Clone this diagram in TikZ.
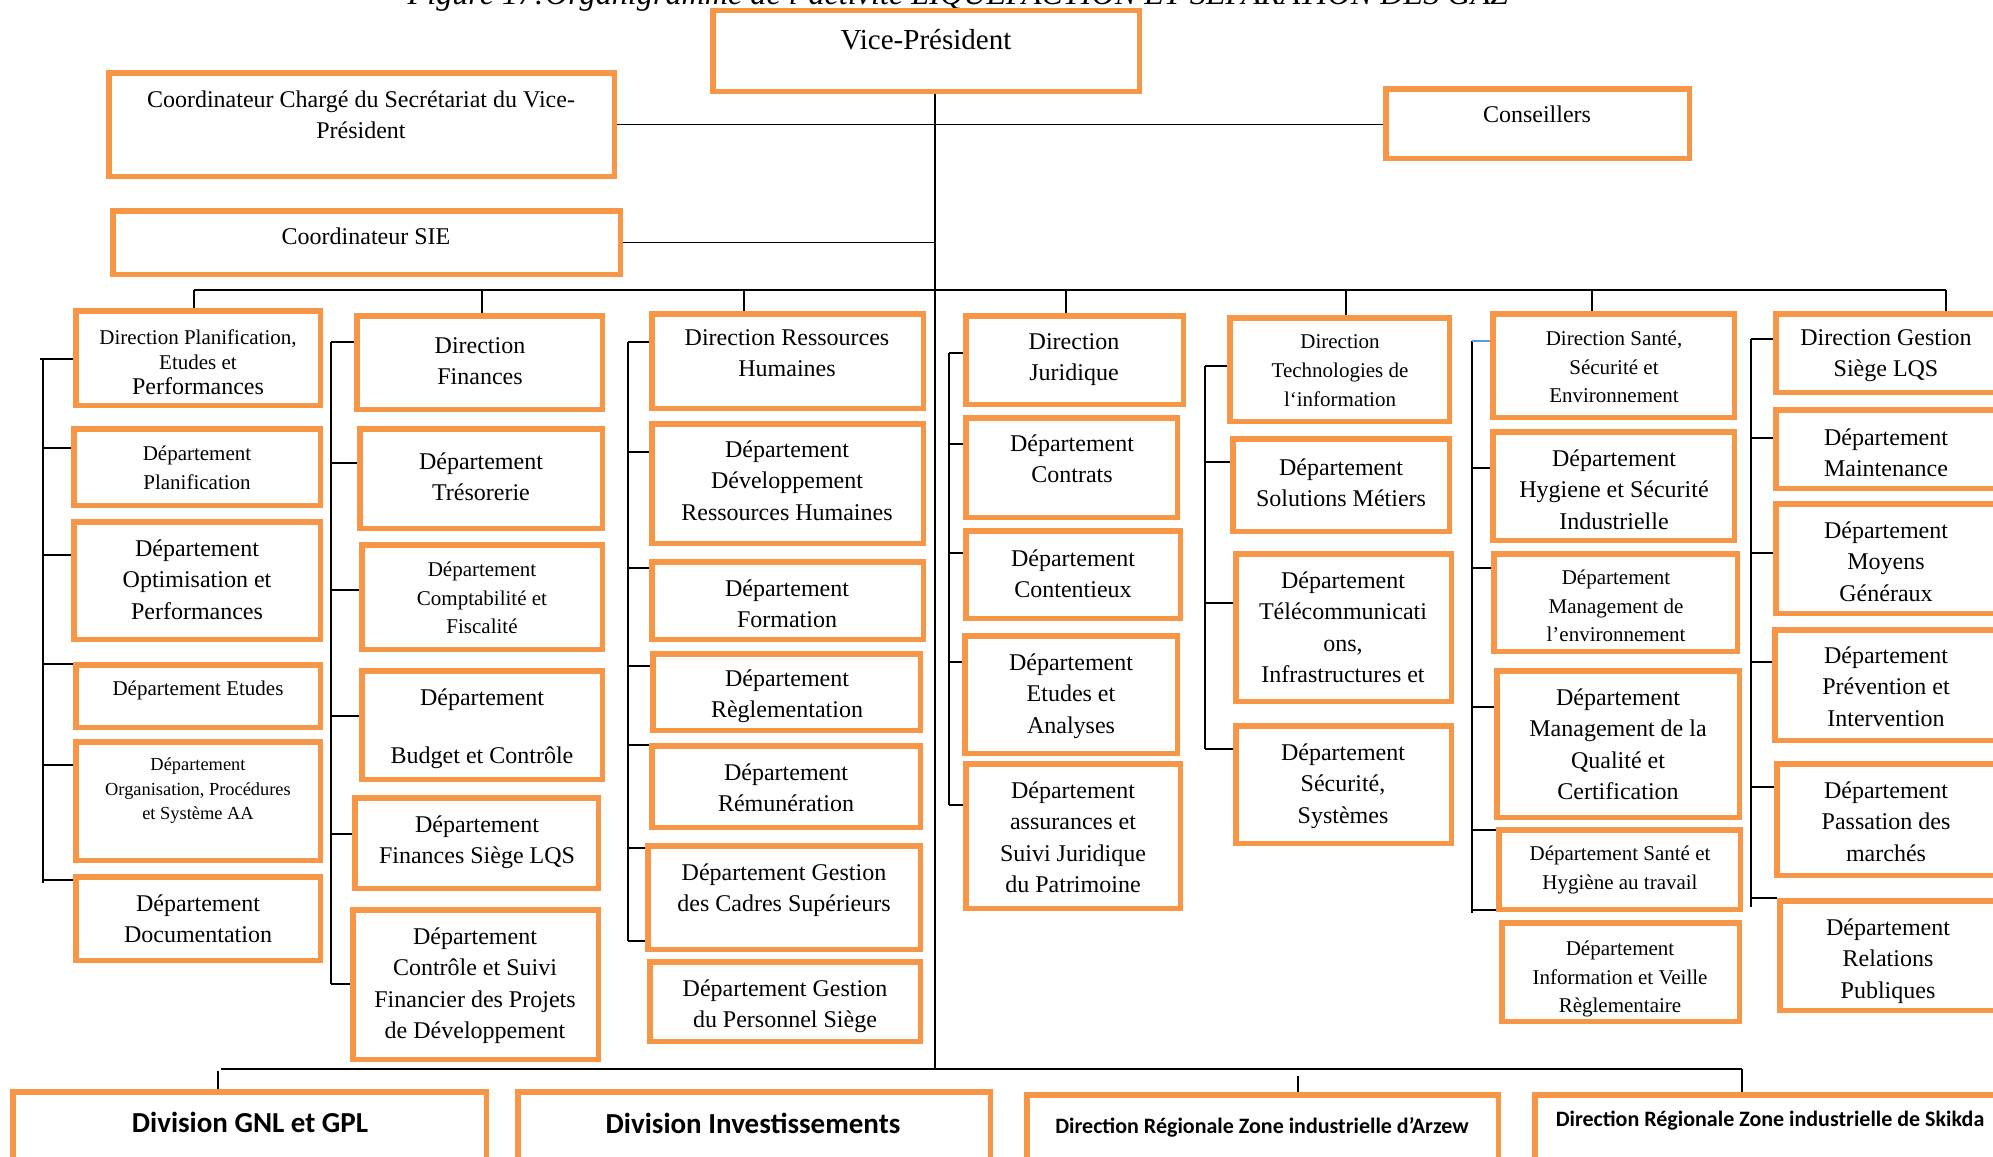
\documentclass[tikz,border=0pt]{standalone}
\usepackage{fontspec}
\setmainfont{Liberation Serif}
\newfontfamily\calib{Carlito}
\definecolor{boxor}{RGB}{247,150,70}
\definecolor{stubblue}{RGB}{91,155,213}
\newcommand\orgbox[5]{\node[obox, minimum width={(#4-#2-5.5)*1pt}, minimum height={(#5-#3-5.5)*1pt}] (#1) at ({(#2+#4)/2},{(#3+#5)/2}) {};}
\newcommand\stub[3]{\draw[conn] (#1 |- 0,#3) -- (#2.west |- 0,#3);}
\begin{document}
\begin{tikzpicture}[x=1pt,y=-1pt,
  obox/.style={draw=boxor, line width=5.5pt, fill=white, rectangle, inner sep=0pt},
  conn/.style={draw=black, line width=1.6pt},
  busl/.style={draw=black, line width=2.4pt},
  tx/.style={anchor=north, align=center, inner sep=0pt, execute at begin node=\strut, text=black},
  T29/.style={tx, font=\fontsize{29}{36}\selectfont, yshift=16pt},
  S24/.style={tx, font=\fontsize{24}{31.5}\selectfont, yshift=14.85pt},
  S21/.style={tx, font=\fontsize{21}{28.3}\selectfont, yshift=13.5pt},
  T24/.style={tx, font=\fontsize{24}{31.5}\selectfont, yshift=8.6pt},
  T21/.style={tx, font=\fontsize{21}{28.8}\selectfont, yshift=7.5pt},
  T18/.style={tx, font=\fontsize{18.4}{24.5}\selectfont, yshift=6.4pt},
  BIG/.style={anchor=base, inner sep=0pt, font=\calib\bfseries\fontsize{29}{30}\selectfont},
  MED/.style={anchor=base, inner sep=0pt, font=\calib\bfseries\fontsize{22}{24}\selectfont}]
\useasboundingbox (0,0) rectangle (1993,1156);
\fill[white] (0,0) rectangle (1993,1156);

% title (cut at top, as in the reference)
\node[anchor=base, inner sep=0pt, font=\itshape\fontsize{32.2}{33}\selectfont] (title) at (958,5) {Figure 17:Organigramme de l’activité LIQUEFACTION ET SEPARATION DES GAZ};

% top boxes
\orgbox{VP}{710}{8}{1142}{94}
\orgbox{CCS}{106}{70}{617}{179}
\orgbox{CONS}{1383}{86}{1692}{161}
\orgbox{SIE}{110}{208}{623}{277}

% column 1
\orgbox{DP}{73}{308}{323}{408}
\orgbox{DPL}{71}{426}{323}{508}
\orgbox{DOP}{71}{519}{323}{642}
\orgbox{DET}{73}{662}{323}{730}
\orgbox{DOR}{73}{739}{323}{863}
\orgbox{DDO}{73}{874}{323}{963}
% column 2
\orgbox{DF}{354}{313}{605}{412}
\orgbox{DTR}{357}{426}{605}{531}
\orgbox{DCF}{359}{542}{605}{652}
\orgbox{DBC}{359}{668}{605}{782}
\orgbox{DFS}{352}{795}{601}{891}
\orgbox{DCS}{350}{907}{601}{1062}
% column 3
\orgbox{DRH}{649}{311}{926}{411}
\orgbox{DDR}{649}{421}{926}{546}
\orgbox{DFO}{649}{559}{926}{642}
\orgbox{DRG}{650}{651}{923}{733}
\orgbox{DRM}{649}{743}{923}{830}
\orgbox{DGC}{645}{843}{923}{952}
\orgbox{DGP}{647}{959}{923}{1044}
% column 4
\orgbox{DJ}{963}{313}{1186}{407}
\orgbox{DCT}{963}{415}{1180}{520}
\orgbox{DCX}{963}{528}{1183}{621}
\orgbox{DEA}{962}{633}{1180}{756}
\orgbox{DAS}{963}{761}{1183}{911}
% column 5
\orgbox{DT}{1227}{315}{1452}{424}
\orgbox{DSM}{1230}{436}{1452}{534}
\orgbox{DTC}{1233}{551}{1454}{704}
\orgbox{DSS}{1233}{723}{1454}{846}
% column 6
\orgbox{DS}{1490}{311}{1737}{420}
\orgbox{DHS}{1490}{429}{1737}{543}
\orgbox{DME}{1491}{551}{1740}{654}
\orgbox{DMQ}{1494}{668}{1742}{820}
\orgbox{DSH}{1496}{827}{1743}{912}
\orgbox{DIV}{1499}{920}{1742}{1024}
% column 7
\orgbox{DG}{1773}{311}{2003}{395}
\orgbox{DMA}{1773}{407}{2003}{491}
\orgbox{DMG}{1773}{501}{2003}{616}
\orgbox{DPI}{1772}{627}{2003}{743}
\orgbox{DPM}{1774}{761}{2003}{878}
\orgbox{DRP}{1777}{898}{2003}{1013}
% bottom
\orgbox{GNL}{10}{1089}{489}{1175}
\orgbox{INV}{515}{1089}{993}{1175}
\orgbox{ARZ}{1024}{1092}{1501}{1175}
\orgbox{SKI}{1532}{1092}{2008}{1175}

% texts
\node[T29] (tVP) at (926,40) {Vice-Président};
\node[T24] (tCCS) at (361,99) {Coordinateur Chargé du Secrétariat du Vice-\\Président};
\node[S24] (tCONS) at (1537,115) {Conseillers};
\node[S24] (tSIE) at (366,237) {Coordinateur SIE};

\node[tx, font=\fontsize{21}{25}\selectfont, yshift=5pt] (tDP) at (198,335) {Direction Planification,\\Etudes et\\{\fontsize{24}{25}\selectfont Performances}};
\node[T21] (tDPL) at (197,453) {Département\\Planification};
\node[T24] (tDOP) at (197,548) {Département\\Optimisation et\\Performances};
\node[S21] (tDET) at (198,689) {Département Etudes};
\node[T18] (tDOR) at (198,764) {Département\\Organisation, Procédures\\et Système AA};
\node[T24] (tDDO) at (198,903) {Département\\Documentation};

\node[T24] (tDF) at (480,346) {Direction\\Finances};
\node[T24] (tDTR) at (481,461) {Département\\Trésorerie};
\node[T21] (tDCF) at (482,569) {Département\\Comptabilité et\\Fiscalité};
\node[T24] (tDBC) at (482,697) {Département\\[27pt]Budget et Contrôle};
\node[T24] (tDFS) at (477,824) {Département\\Finances Siège LQS};
\node[T24] (tDCS) at (475,936) {Département\\Contrôle et Suivi\\Financier des Projets\\de Développement};

\node[T24] (tDRH) at (787,338) {Direction Ressources\\Humaines};
\node[T24] (tDDR) at (787,449) {Département\\Développement\\Ressources Humaines};
\node[T24] (tDFO) at (787,588) {Département\\Formation};
\node[T24] (tDRG) at (787,678) {Département\\Règlementation};
\node[T24] (tDRM) at (786,772) {Département\\Rémunération};
\node[T24] (tDGC) at (784,872) {Département Gestion\\des Cadres Supérieurs};
\node[T24] (tDGP) at (785,988) {Département Gestion\\du Personnel Siège};

\node[T24] (tDJ) at (1074,342) {Direction\\Juridique};
\node[T24] (tDCT) at (1072,443) {Département\\Contrats};
\node[T24] (tDCX) at (1073,558) {Département\\Contentieux};
\node[T24] (tDEA) at (1071,662) {Département\\Etudes et\\Analyses};
\node[T24] (tDAS) at (1073,790) {Département\\assurances et\\Suivi Juridique\\du Patrimoine};

\node[T21] (tDT) at (1340,342) {Direction\\Technologies de\\l‘information};
\node[T24] (tDSM) at (1341,467) {Département\\Solutions Métiers};
\node[T24] (tDTC) at (1343,580) {Département\\Télécommunicati\\ons,\\Infrastructures et};
\node[T24] (tDSS) at (1343,752) {Département\\Sécurité,\\Systèmes};

\node[T21] (tDS) at (1614,338) {Direction Santé,\\Sécurité et\\Environnement};
\node[T24] (tDHS) at (1614,458) {Département\\Hygiene et Sécurité\\Industrielle};
\node[T21] (tDME) at (1616,577) {Département\\Management de\\l’environnement};
\node[T24] (tDMQ) at (1618,697) {Département\\Management de la\\Qualité et\\Certification};
\node[T21] (tDSH) at (1620,853) {Département Santé et\\Hygiène au travail};
\node[T21] (tDIV) at (1620,948) {Département\\Information et Veille\\Règlementaire};

\node[T24] (tDG) at (1886,338) {Direction Gestion\\Siège LQS};
\node[T24] (tDMA) at (1886,437) {Département\\Maintenance};
\node[T24] (tDMG) at (1886,530) {Département\\Moyens\\Généraux};
\node[T24] (tDPI) at (1886,655) {Département\\Prévention et\\Intervention};
\node[T24] (tDPM) at (1886,790) {Département\\Passation des\\marchés};
\node[T24] (tDRP) at (1888,927) {Département\\Relations\\Publiques};

\node[BIG] (tGNL) at (250,1132) {Division GNL et GPL};
\node[BIG] (tINV) at (753,1133) {Division Investissements};
\node[MED] (tARZ) at (1262,1133) {Direction Régionale Zone industrielle d’Arzew};
\node[MED] (tSKI) at (1770,1126) {Direction Régionale Zone industrielle de Skikda};

% connectors: top
\coordinate (trk) at (935,1069);
\draw[conn] (VP.south -| trk) -- (trk);
\draw[conn] (CCS.east) -- (CCS.east -| CONS.west);
\draw[conn] (SIE.east) -- (SIE.east -| trk);
\coordinate (bl) at (194,290);
\coordinate (br) at (1946,290);
\draw[busl] (bl) -- (br);
\coordinate (k2) at (482,290);
\coordinate (k3) at (744,290);
\coordinate (k4) at (1066,290);
\coordinate (k5) at (1346,290);
\coordinate (k6) at (1592,290);
\draw[conn] (bl) -- (bl |- DP.north);
\draw[conn] (k2) -- (k2 |- DF.north);
\draw[conn] (k3) -- (k3 |- DRH.north);
\draw[conn] (k4) -- (k4 |- DJ.north);
\draw[conn] (k5) -- (k5 |- DT.north);
\draw[conn] (k6) -- (k6 |- DS.north);
\draw[conn] (br) -- (br |- DG.north);

% spines
\coordinate (s1t) at (43,359);  \coordinate (s1b) at (43,883);
\coordinate (s2t) at (331,342); \coordinate (s2b) at (331,984);
\coordinate (s3t) at (628,342); \coordinate (s3b) at (628,941);
\coordinate (s4t) at (949,353); \coordinate (s4b) at (949,805);
\coordinate (s5t) at (1205,366); \coordinate (s5b) at (1205,749);
\coordinate (s6t) at (1472,341); \coordinate (s6b) at (1472,913);
\coordinate (s7t) at (1751,339); \coordinate (s7b) at (1751,907);
\draw[conn] (s1t) -- (s1b);
\draw[conn] (s2t) -- (s2b);
\draw[conn] (s3t) -- (s3b);
\draw[conn] (s4t) -- (s4b);
\draw[conn] (s5t) -- (s5b);
\draw[conn] (s6t) -- (s6b);
\draw[conn] (s7t) -- (s7b);

\draw[conn] ([xshift=-3pt]s1t) -- (DP.west |- s1t);
\stub{s1t}{DPL}{448}
\stub{s1t}{DOP}{555}
\stub{s1t}{DET}{664}
\stub{s1t}{DOR}{765}
\stub{s1t}{DDO}{880}

\stub{s2t}{DF}{342}
\stub{s2t}{DTR}{463}
\stub{s2t}{DCF}{590}
\stub{s2t}{DBC}{716}
\stub{s2t}{DFS}{834}
\stub{s2t}{DCS}{984}

\stub{s3t}{DRH}{342}
\stub{s3t}{DDR}{452}
\stub{s3t}{DFO}{568}
\stub{s3t}{DRG}{666}
\stub{s3t}{DRM}{745}
\stub{s3t}{DGC}{848}
\stub{s3t}{DGC}{941}

\stub{s4t}{DJ}{353}
\stub{s4t}{DCT}{444}
\stub{s4t}{DCX}{553}
\stub{s4t}{DEA}{662}
\stub{s4t}{DAS}{805}

\stub{s5t}{DT}{366}
\stub{s5t}{DSM}{462}
\stub{s5t}{DTC}{603}
\stub{s5t}{DSS}{749}

\draw[conn, draw=stubblue] (s6t) -- (DS.west |- s6t);
\stub{s6t}{DHS}{468}
\stub{s6t}{DME}{568}
\stub{s6t}{DMQ}{707}
\stub{s6t}{DSH}{830}
\stub{s6t}{DSH}{910}

\stub{s7t}{DG}{339}
\stub{s7t}{DMA}{438}
\stub{s7t}{DMG}{553}
\stub{s7t}{DPI}{662}
\stub{s7t}{DPM}{787}
\stub{s7t}{DRP}{898}

% bottom bus
\coordinate (bbl) at (221,1069);
\coordinate (bbr) at (1742,1069);
\draw[busl] (bbl) -- (bbr);
\coordinate (bt1) at (218,1071);
\coordinate (bt3) at (1298,1076);
\draw[conn] (bt1) -- (bt1 |- GNL.north);
\draw[conn] (bt3) -- (bt3 |- ARZ.north);
\draw[conn] (bbr) -- (bbr |- SKI.north);
\end{tikzpicture}
\end{document}
